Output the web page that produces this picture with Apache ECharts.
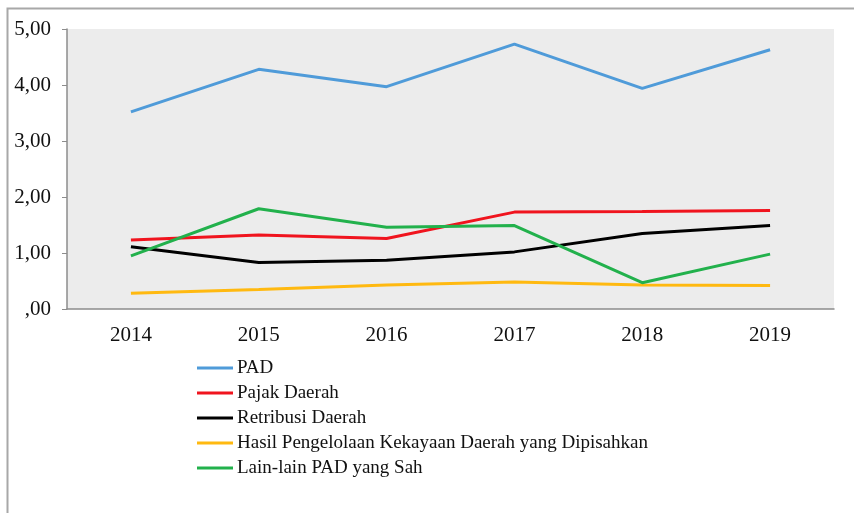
<!DOCTYPE html>
<html>
<head>
<meta charset="utf-8">
<script src="https://cdn.jsdelivr.net/npm/echarts@6/dist/echarts.min.js"></script>
<style>html,body{margin:0;padding:0;background:#fff}#c{width:854px;height:513px}</style>
</head>
<body>
<div id="c"></div>
<script>
var years = ['2014', '2015', '2016', '2017', '2018', '2019'];
var seriesNames = ['PAD', 'Pajak Daerah', 'Retribusi Daerah', 'Hasil Pengelolaan Kekayaan Daerah yang Dipisahkan', 'Lain-lain PAD yang Sah'];
var pad = [3.52, 4.28, 3.97, 4.73, 3.94, 4.63];
var pajak = [1.23, 1.32, 1.26, 1.73, 1.74, 1.76];
var retribusi = [1.11, 0.83, 0.87, 1.02, 1.35, 1.49];
var hasil = [0.28, 0.35, 0.43, 0.48, 0.43, 0.42];
var lain = [0.95, 1.79, 1.46, 1.49, 0.47, 0.98];
var colors = ['#4f9bd9', '#f0141e', '#000000', '#ffb910', '#22b14c'];
var allData = [pad, pajak, retribusi, hasil, lain];

var font = '"Liberation Serif", "Times New Roman", serif';
var chart = echarts.init(document.getElementById('c'));
chart.setOption({
  animation: false,
  color: colors,
  graphic: [{
    type: 'rect', left: 5, top: 6, shape: {width: 900, height: 600},
    style: {fill: 'none', stroke: '#a8a8a8', lineWidth: 2}, silent: true
  }],
  grid: {left: 67, right: 20, top: 29, bottom: 204, show: true, backgroundColor: '#ececec', borderWidth: 0},
  legend: {
    orient: 'vertical', left: 192, top: 353, itemWidth: 36, itemHeight: 3, itemGap: 5,
    icon: 'rect',
    textStyle: {fontFamily: font, fontSize: 19, color: '#111', lineHeight: 20, padding: [0,0,0,-1]},
    data: seriesNames
  },
  xAxis: {
    type: 'category', data: years, boundaryGap: true,
    axisLine: {lineStyle: {color: '#8c8c8c', width: 1.5}},
    axisTick: {length: 5, lineStyle: {color: '#8c8c8c'}},
    axisLabel: {fontFamily: font, fontSize: 21, color: '#111', margin: 16}
  },
  yAxis: {
    type: 'value', min: 0, max: 5, interval: 1,
    axisLine: {show: true, lineStyle: {color: '#8c8c8c', width: 1.5}},
    axisTick: {show: true, length: 5, lineStyle: {color: '#8c8c8c'}},
    splitLine: {show: false},
    axisLabel: {fontFamily: font, fontSize: 21, color: '#111', margin: 16, padding: [6,0,0,0],
      formatter: function (v) { return v === 0 ? ',00' : v.toFixed(2).replace('.', ','); }}
  },
  series: seriesNames.map(function (n, i) {
    return {name: n, type: 'line', data: allData[i], symbol: 'none', lineStyle: {width: 3, color: colors[i]}, itemStyle: {color: colors[i]}};
  })
});
</script>
</body>
</html>
